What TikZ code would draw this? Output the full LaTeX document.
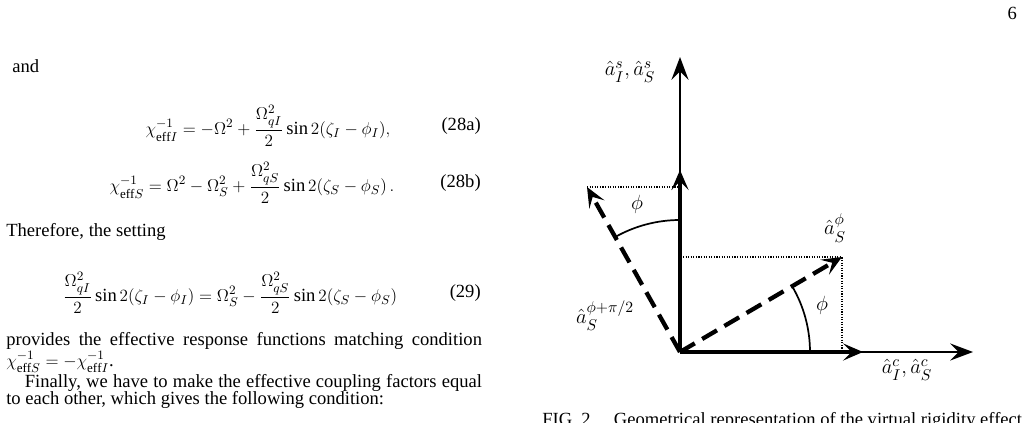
\documentclass[tikz,border=0pt]{standalone}
\usepackage{amsmath,amssymb}
\usepackage{fontspec}
\setmainfont{Liberation Serif}
\usepackage{tikz}
\usetikzlibrary{positioning,arrows.meta}

\tikzset{
    thinvec/.style={line width=1.2pt,-{Stealth[length=16pt,width=12pt,inset=6pt]}},
    thickvec/.style={line width=3pt,-{Stealth[length=14pt,width=12pt,inset=6pt]}},
    dashvec/.style={line width=3pt,dash pattern=on 12pt off 6pt,-{Stealth[length=14pt,width=12pt,inset=6pt]}},
    guide/.style={densely dotted,line width=0.8pt},
    lbl/.style={font=\fontsize{15}{16}\selectfont}
}

\begin{document}
\begin{tikzpicture}[x=0.7pt,y=-0.7pt,font=\fontsize{13}{12}\selectfont]
    \clip (0,0) rectangle (1029,423);

    % page number and left column
    \node[anchor=base east] (page) at (1022,20) {6};
    \node[anchor=base west,inner sep=0pt] (and) at (12,73) {and};
    \node (eqa) at (268,126)
        {$\displaystyle \chi^{-1}_{\mathrm{eff}I} = -\Omega^2 + \frac{\Omega^2_{qI}}{2}\sin 2(\zeta_I-\phi_I),$};
    \node[anchor=east,inner sep=0pt] (numa) at (481,126) {(28a)};
    \node (eqb) at (252,183)
        {$\displaystyle \chi^{-1}_{\mathrm{eff}S} = \Omega^2 - \Omega^2_S + \frac{\Omega^2_{qS}}{2}\sin 2(\zeta_S-\phi_S)\,.$};
    \node[anchor=east,inner sep=0pt] (numb) at (481,183) {(28b)};
    \node[anchor=base west,inner sep=0pt] (there) at (6,237) {Therefore, the setting};
    \node (eqc) at (230,293)
        {$\displaystyle \frac{\Omega^2_{qI}}{2}\sin 2(\zeta_I-\phi_I) = \Omega^2_S - \frac{\Omega^2_{qS}}{2}\sin 2(\zeta_S-\phi_S)$};
    \node[anchor=east,inner sep=0pt] (numc) at (481,293) {(29)};
    \node[anchor=north west,text width=333pt,align=justify,inner sep=0pt] (para) at (6,332)
        {provides the effective response functions matching condition
        $\chi^{-1}_{\mathrm{eff}S} = -\chi^{-1}_{\mathrm{eff}I}$.\par
        \hspace*{1em}Finally, we have to make the effective coupling factors equal
        to each other, which gives the following condition:};

    % vector diagram
    \coordinate (o) at (680,352);
    \coordinate (ys) at (680,57);
    \coordinate (yt) at (680,170);
    \coordinate (xs) at (973,352);
    \coordinate (xt) at (863,352);
    \coordinate (p) at (842,257);
    \coordinate (q) at (587,187);

    \draw[guide] (q) -- (680,187);
    \draw[guide] (683,257) -- (p) -- (842,352);

    \draw[thinvec] (o) -- (ys);
    \draw[thinvec] (o) -- (xs);
    \draw[thickvec] (o) -- (yt);
    \draw[thickvec] (o) -- (xt);
    \draw[dashvec] (o) -- (p);
    \draw[dashvec] (o) -- (q);

    \draw[line width=1.2pt] ([shift={(0:130)}]o) arc[start angle=0,end angle=-30.4,radius=130];
    \draw[line width=1.2pt] ([shift={(-90:132)}]o) arc[start angle=-90,end angle=-119.4,radius=132];

    \node[lbl] (phia) at (822,305) {$\phi$};
    \node[lbl] (phib) at (637,204) {$\phi$};
    \node[lbl] (ly) at (630,72) {$\hat a^s_I,\hat a^s_S$};
    \node[lbl] (lp) at (835,228) {$\hat a^{\phi}_S$};
    \node[lbl] (lq) at (605,316) {$\hat a^{\phi+\pi/2}_S$};
    \node[lbl] (lx) at (907,370) {$\hat a^c_I,\hat a^c_S$};

    \node[anchor=base west,inner sep=0pt] (cap) at (542,425)
        {FIG. 2.\quad Geometrical representation of the virtual rigidity effect};
\end{tikzpicture}
\end{document}
